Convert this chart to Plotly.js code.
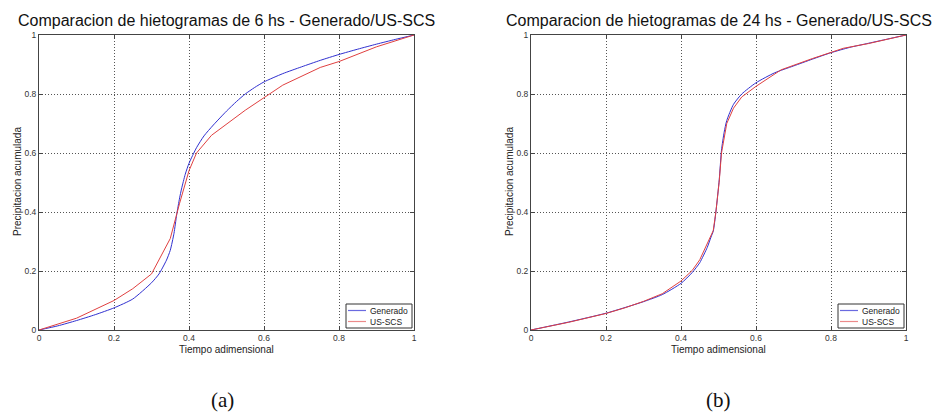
<!DOCTYPE html>
<html><head><meta charset="utf-8">
<script src="https://cdn.plot.ly/plotly-3.0.1.min.js"></script>
<style>html,body{margin:0;padding:0;background:#fff}#chart{width:943px;height:412px}</style>
</head><body><div id="chart"></div>
<script>
// ---- Data ----
const gen6X = [0, 0.05, 0.1, 0.15, 0.2, 0.25, 0.3, 0.32, 0.34, 0.35, 0.36, 0.367, 0.375, 0.38, 0.39, 0.4, 0.42, 0.44, 0.465, 0.5, 0.527, 0.55, 0.575, 0.6, 0.65, 0.7, 0.75, 0.8, 0.85, 0.9, 0.95, 1];
const gen6Y = [0, 0.014, 0.032, 0.052, 0.075, 0.105, 0.16, 0.19, 0.237, 0.27, 0.328, 0.39, 0.448, 0.478, 0.528, 0.565, 0.618, 0.658, 0.695, 0.742, 0.775, 0.80, 0.822, 0.841, 0.869, 0.892, 0.914, 0.934, 0.952, 0.969, 0.985, 1];
const scs6X = [0, 0.1, 0.2, 0.25, 0.3, 0.35, 0.375, 0.4, 0.42, 0.46, 0.55, 0.65, 0.75, 0.8, 0.9, 1];
const scs6Y = [0, 0.04, 0.10, 0.14, 0.19, 0.31, 0.43, 0.54, 0.60, 0.66, 0.745, 0.83, 0.89, 0.91, 0.96, 1];

const gen24X = [0, 0.1, 0.2, 0.3, 0.35, 0.4, 0.43, 0.45, 0.47, 0.48, 0.486, 0.493, 0.502, 0.508, 0.515, 0.522, 0.54, 0.562, 0.6, 0.65, 0.7, 0.75, 0.8, 0.85, 0.9, 0.95, 1];
const gen24Y = [0, 0.027, 0.057, 0.096, 0.12, 0.158, 0.195, 0.228, 0.28, 0.315, 0.335, 0.40, 0.51, 0.61, 0.67, 0.71, 0.765, 0.80, 0.838, 0.872, 0.895, 0.918, 0.94, 0.958, 0.972, 0.986, 1];
const scs24X = [0, 0.1, 0.2, 0.25, 0.3, 0.35, 0.4, 0.43, 0.45, 0.47, 0.48, 0.486, 0.493, 0.502, 0.508, 0.515, 0.522, 0.54, 0.562, 0.6, 0.667, 0.75, 0.833, 0.9, 1];
const scs24Y = [0, 0.026, 0.056, 0.075, 0.097, 0.123, 0.166, 0.202, 0.238, 0.29, 0.32, 0.337, 0.40, 0.505, 0.60, 0.655, 0.70, 0.752, 0.79, 0.826, 0.882, 0.92, 0.955, 0.971, 1];

const seriesNames = ['Generado', 'US-SCS'];
const titles = ['Comparacion de hietogramas de 6 hs - Generado/US-SCS', 'Comparacion de hietogramas de 24 hs - Generado/US-SCS'];
const xTitle = 'Tiempo adimensional';
const yTitle = 'Precipitacion acumulada';
const panelLabels = ['(a)', '(b)'];
const tickVals = [0, 0.2, 0.4, 0.6, 0.8, 1];
const tickText = ['0', '0.2', '0.4', '0.6', '0.8', '1'];

// ---- Layout helpers ----
const W = 943, H = 412;
const px = v => v / W, py = v => 1 - v / H;
const BLUE = '#3030d0', RED = '#e04040';
const SANS = 'Liberation Sans, Arial, Helvetica, sans-serif';

const traces = [
  {x: gen6X, y: gen6Y, xaxis: 'x', yaxis: 'y', name: seriesNames[0], mode: 'lines', line: {color: BLUE, width: 1, shape: 'spline', smoothing: 0.6}},
  {x: scs6X, y: scs6Y, xaxis: 'x', yaxis: 'y', name: seriesNames[1], mode: 'lines', line: {color: RED, width: 1}},
  {x: gen24X, y: gen24Y, xaxis: 'x2', yaxis: 'y2', name: seriesNames[0], mode: 'lines', line: {color: BLUE, width: 1, shape: 'spline', smoothing: 0.6}},
  {x: scs24X, y: scs24Y, xaxis: 'x2', yaxis: 'y2', name: seriesNames[1], mode: 'lines', line: {color: RED, width: 1}}
];

function axis(domain, anchor) {
  return {
    domain: domain, anchor: anchor, range: [0, 1], autorange: false,
    tickvals: tickVals, ticktext: tickText,
    ticks: 'inside', ticklen: 4, tickcolor: '#444', tickwidth: 1,
    showline: true, linecolor: '#444', linewidth: 1, mirror: 'ticks',
    showgrid: true, gridcolor: '#555', griddash: '1px,2px', gridwidth: 1,
    zeroline: false, fixedrange: true,
    tickfont: {family: SANS, size: 8.5, color: '#333'}
  };
}

const xd1 = [px(39), px(414)], xd2 = [px(531), px(906)], yd = [py(330), py(35)];

const annotations = [];
const shapes = [];
const centers = [226.5, 718.5];
const yTitleX = [17, 509];
const legendX = [[346, 412], [838, 904]];
for (let i = 0; i < 2; i++) {
  annotations.push({text: titles[i], x: px(centers[i]), y: py(20.5), xref: 'paper', yref: 'paper', xanchor: 'center', yanchor: 'middle', showarrow: false, font: {family: SANS, size: 16, color: '#111'}});
  annotations.push({text: xTitle, x: px(centers[i]), y: py(349), xref: 'paper', yref: 'paper', xanchor: 'center', yanchor: 'middle', showarrow: false, font: {family: SANS, size: 10, color: '#222'}});
  annotations.push({text: yTitle, x: px(yTitleX[i]), y: py(182), xref: 'paper', yref: 'paper', xanchor: 'center', yanchor: 'middle', textangle: -90, showarrow: false, font: {family: SANS, size: 10, color: '#222'}});
  annotations.push({text: panelLabels[i], x: px(i === 0 ? 222 : 718), y: py(400), xref: 'paper', yref: 'paper', xanchor: 'center', yanchor: 'middle', showarrow: false, font: {family: 'Liberation Serif, Times New Roman, serif', size: 21, color: '#111'}});
  // manual legend box
  const [l, r] = legendX[i];
  shapes.push({type: 'rect', xref: 'paper', yref: 'paper', x0: px(l), x1: px(r), y0: py(328), y1: py(304), line: {color: '#333', width: 1}, fillcolor: '#fff', layer: 'above'});
  shapes.push({type: 'line', xref: 'paper', yref: 'paper', x0: px(l + 2), x1: px(l + 20), y0: py(310.5), y1: py(310.5), line: {color: '#6a6ae0', width: 1.2}, layer: 'above'});
  shapes.push({type: 'line', xref: 'paper', yref: 'paper', x0: px(l + 2), x1: px(l + 20), y0: py(321.5), y1: py(321.5), line: {color: '#ec8a8a', width: 1.2}, layer: 'above'});
  annotations.push({text: seriesNames[0], x: px(l + 22), y: py(310.5), xref: 'paper', yref: 'paper', xanchor: 'left', yanchor: 'middle', showarrow: false, font: {family: SANS, size: 8.5, color: '#222'}});
  annotations.push({text: seriesNames[1], x: px(l + 22), y: py(321.5), xref: 'paper', yref: 'paper', xanchor: 'left', yanchor: 'middle', showarrow: false, font: {family: SANS, size: 8.5, color: '#222'}});
}

const layout = {
  width: W, height: H, margin: {l: 0, r: 0, t: 0, b: 0},
  paper_bgcolor: '#fff', plot_bgcolor: '#fff', showlegend: false,
  xaxis: axis(xd1, 'y'), yaxis: axis(yd, 'x'),
  xaxis2: axis(xd2, 'y2'), yaxis2: axis(yd, 'x2'),
  annotations: annotations, shapes: shapes
};

Plotly.newPlot('chart', traces, layout, {displayModeBar: false, staticPlot: true});
</script>
</body></html>
